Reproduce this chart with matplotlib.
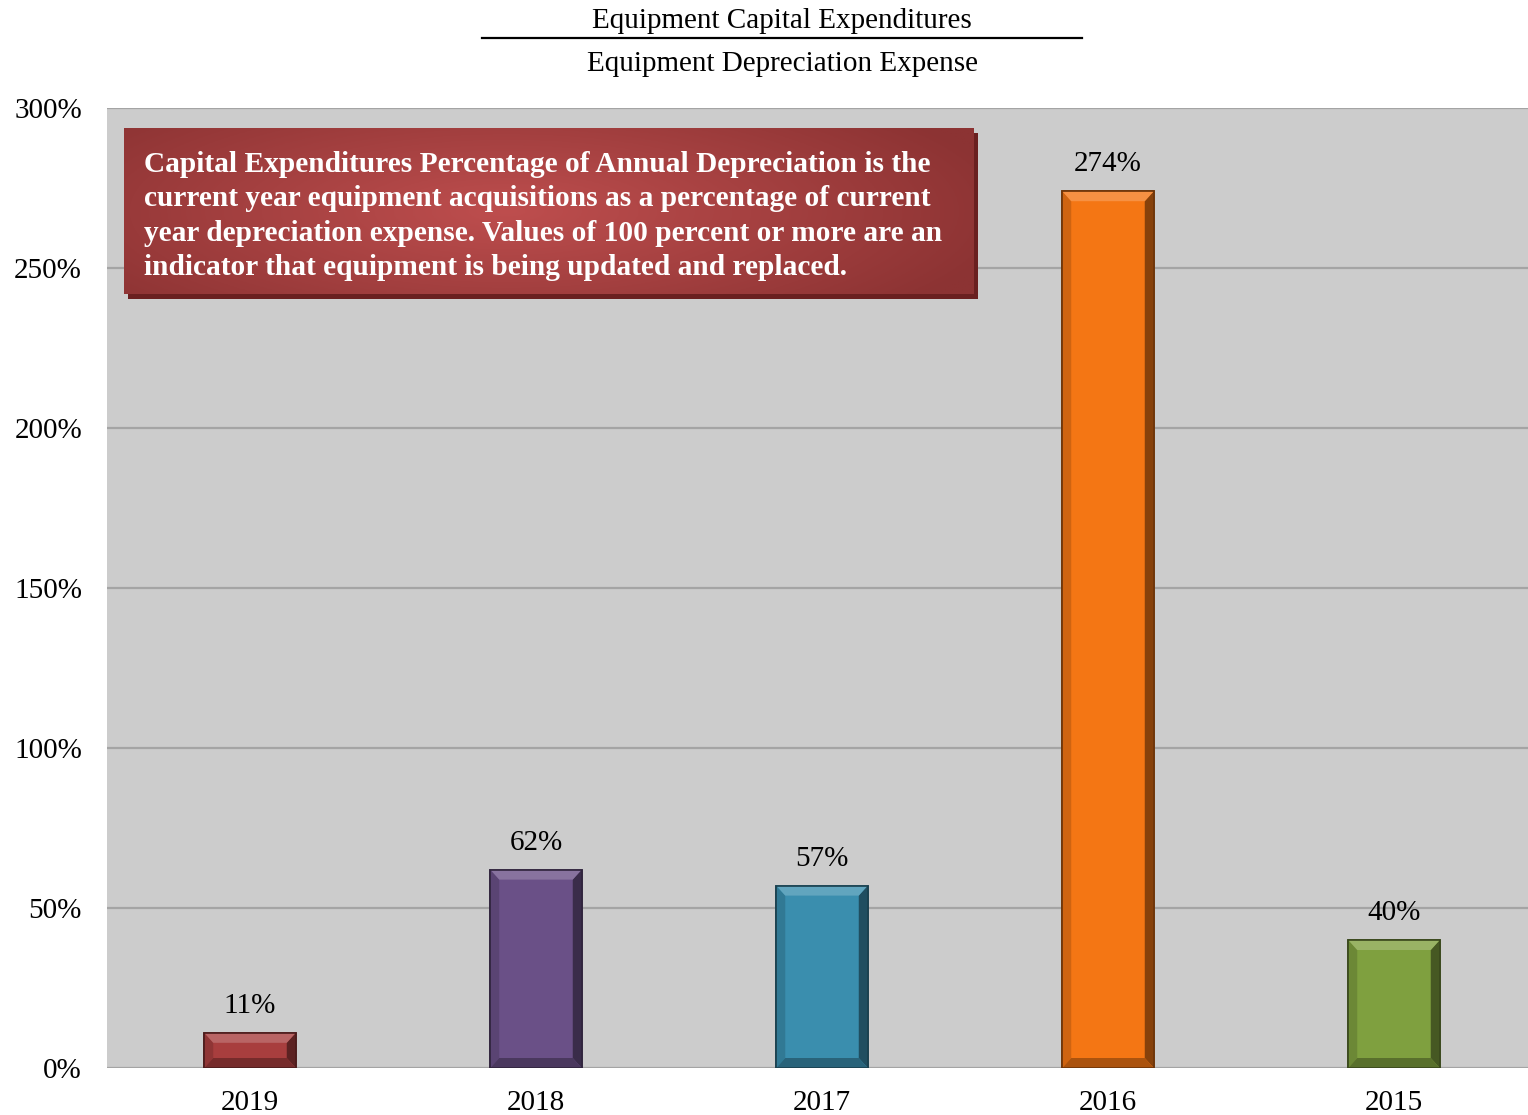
import numpy as np
import matplotlib
matplotlib.use("Agg")
import matplotlib.pyplot as plt
from matplotlib.patches import Polygon, Rectangle
from matplotlib.colors import to_rgb
from matplotlib.ticker import FuncFormatter

plt.rcParams['font.family'] = ['Liberation Serif', 'DejaVu Serif']

years = ['2019', '2018', '2017', '2016', '2015']
pct = [11, 62, 57, 274, 40]
bar_colors = ['#A83E3E', '#6A5087', '#3A8EAE', '#F47614', '#7FA03F']

title_top = 'Equipment Capital Expenditures'
title_bottom = 'Equipment Depreciation Expense'
note = ('Capital Expenditures Percentage of Annual Depreciation is the\n'
        'current year equipment acquisitions as a percentage of current\n'
        'year depreciation expense. Values of 100 percent or more are an\n'
        'indicator that equipment is being updated and replaced.')


def shade(c, f):
    r = np.array(to_rgb(c))
    if f >= 0:
        return tuple(r + (1 - r) * f)
    return tuple(r * (1 + f))


W, H = 1528, 1115
fig = plt.figure(figsize=(W / 100, H / 100), dpi=100)
ax = fig.add_axes([107 / W, (H - 1068) / H, 1 - 107 / W, (1068 - 108) / H])
ax.set_facecolor('#CCCCCC')
ax.set_xlim(-0.5, -0.5 + (W - 107) / 286)
ax.set_ylim(0, 300)
ax.set_yticks(np.arange(0, 301, 50))
ax.yaxis.set_major_formatter(FuncFormatter(lambda v, p: f'{v:.0f}%'))
ax.grid(axis='y', color='#A4A4A4', linewidth=1.6)
ax.set_axisbelow(True)
for s in ax.spines.values():
    s.set_visible(False)
ax.tick_params(axis='y', length=0, pad=18, labelsize=21)
ax.tick_params(axis='x', length=0, pad=16, labelsize=21)

x = np.arange(len(years))
bw = 0.32
ax.set_xticks(x)
ax.set_xticklabels(years)

# data units per pixel
px_x = 1 / 286
px_y = 300 / (1068 - 108)

for xi, h, c in zip(x, pct, bar_colors):
    l, r = xi - bw / 2, xi + bw / 2
    bx = 9 * px_x
    by = min(10 * px_y, h / 3)
    ax.add_patch(Rectangle((l, 0), bw, h, facecolor=c, edgecolor=shade(c, -0.55),
                           linewidth=1.2, zorder=3))
    top = [(l, h), (r, h), (r - bx, h - by), (l + bx, h - by)]
    bot = [(l, 0), (r, 0), (r - bx, by), (l + bx, by)]
    left = [(l, 0), (l, h), (l + bx, h - by), (l + bx, by)]
    right = [(r, 0), (r, h), (r - bx, h - by), (r - bx, by)]
    ax.add_patch(Polygon(left, closed=True, facecolor=shade(c, -0.15), lw=0, zorder=4))
    ax.add_patch(Polygon(right, closed=True, facecolor=shade(c, -0.45), lw=0, zorder=4))
    ax.add_patch(Polygon(bot, closed=True, facecolor=shade(c, -0.3), lw=0, zorder=4))
    ax.add_patch(Polygon(top, closed=True, facecolor=shade(c, 0.2), lw=0, zorder=4))
    ax.add_patch(Rectangle((l, 0), bw, h, facecolor='none', edgecolor=shade(c, -0.55),
                           linewidth=1.2, zorder=5))
    ax.annotate(f'{h}%', (xi, h), xytext=(0, 10), textcoords='offset points',
                ha='center', va='bottom', fontsize=21, zorder=6)

# two-line fraction title
fig.text(782 / W, 1 - 21 / H, title_top, ha='center', va='center', fontsize=21)
fig.text(782 / W, 1 - 64 / H, title_bottom, ha='center', va='center', fontsize=21)
fig.add_artist(plt.Line2D([482 / W, 1082 / W], [1 - 38 / H, 1 - 38 / H],
                          color='black', linewidth=1.6))

# note box with shadow and gradient fill
bx0, by0, bx1, by1 = 124, 128, 974, 294
fig.add_artist(Rectangle(((bx0 + 4) / W, 1 - (by1 + 5) / H), (bx1 - bx0) / W,
                         (by1 - by0) / H, transform=fig.transFigure,
                         facecolor='#6A2020', edgecolor='none', zorder=1))
nax = fig.add_axes([bx0 / W, 1 - by1 / H, (bx1 - bx0) / W, (by1 - by0) / H], zorder=2)
gx, gy = np.meshgrid(np.linspace(0, 1, 400), np.linspace(0, 1, 100))
d = np.sqrt(((gx - 0.45) / 0.6) ** 2 + ((gy - 0.5) / 0.9) ** 2)
t = np.clip(1 - d, 0, 1)
dark = np.array(to_rgb('#8C3333'))
light = np.array(to_rgb('#BE4E4E'))
img = dark[None, None, :] + (light - dark)[None, None, :] * t[..., None]
nax.imshow(img, extent=(0, 1, 0, 1), aspect='auto', origin='lower')
nax.set_xlim(0, 1)
nax.set_ylim(0, 1)
nax.axis('off')
nax.text(20 / (bx1 - bx0), 0.47, note, color='white', fontsize=21.2, fontweight='bold',
         ha='left', va='center', linespacing=1.36)

fig.savefig('out.png', dpi=100)
